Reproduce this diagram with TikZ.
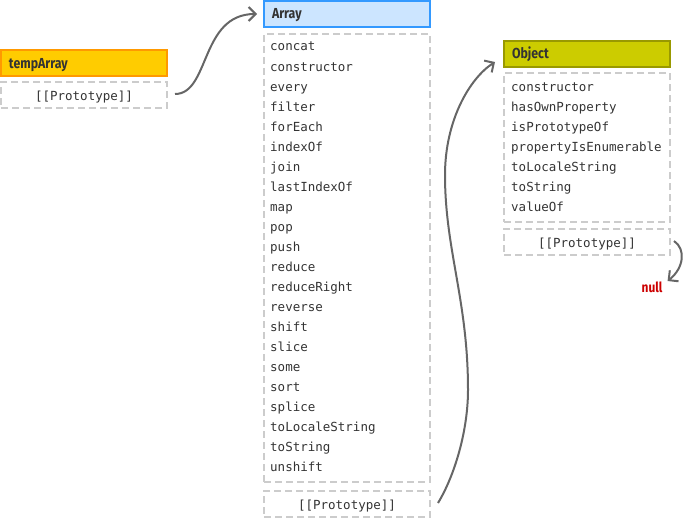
\documentclass[tikz,border=0pt]{standalone}
\usepackage{fontspec}
\setmonofont{DejaVu Sans Mono}
\newfontfamily\headfont{Fira Sans}[FakeStretch=0.85]
\usetikzlibrary{arrows.meta}
\definecolor{framegray}{HTML}{CCCCCC}
\definecolor{textdark}{HTML}{333333}
\definecolor{linkgray}{HTML}{666666}
\definecolor{tempfill}{HTML}{FFCC00}
\definecolor{tempedge}{HTML}{FF9900}
\definecolor{arrayfill}{HTML}{CCE5FF}
\definecolor{arrayedge}{HTML}{3399FF}
\definecolor{objfill}{HTML}{CCCC00}
\definecolor{objedge}{HTML}{999900}
\definecolor{nullred}{HTML}{CC0000}

\begin{document}
\begin{tikzpicture}[x=1pt,y=-1pt,
  header/.style={draw, line width=2pt, anchor=north west, outer sep=0pt,
    inner xsep=8pt, inner ysep=0pt, text width=150pt, align=left,
    text height=11pt, text depth=1pt,
    minimum height=26pt, font=\headfont\bfseries\fontsize{14.5}{16}\selectfont,
    text=textdark},
  frame/.style={draw=framegray, line width=2pt, dash pattern=on 7pt off 4pt,
    anchor=north west, outer sep=0pt, inner sep=0pt, minimum width=166pt},
  member/.style={anchor=base west, inner sep=0pt,
    font=\ttfamily\fontsize{12.5}{15}\selectfont, text=textdark},
  proto/.style={frame, minimum height=26pt, text height=10pt, text depth=0pt,
    font=\ttfamily\fontsize{12.5}{15}\selectfont, text=textdark},
  link/.style={draw=linkgray, line width=2pt,
    -{Straight Barb[length=7pt,width=14pt]}},
]
\useasboundingbox (0,0) rectangle (685,519);

% tempArray
\node[header, fill=tempfill, draw=tempedge] (thead) at (1,50) {tempArray};
\node[proto] (tproto) at (1,82) {[[Prototype]]};

% Array.prototype
\node[header, fill=arrayfill, draw=arrayedge] (ahead) at (264,1) {Array};
\node[frame, minimum height=448pt] (amembers) at (264,34) {};
\foreach \m [count=\i] in {concat,constructor,every,filter,forEach,indexOf,join,
  lastIndexOf,map,pop,push,reduce,reduceRight,reverse,shift,slice,some,sort,
  splice,toLocaleString,toString,unshift}
  \node[member] (am-\i) at (270,{51+20*(\i-1)}) {\m};
\node[proto] (aproto) at (264,491) {[[Prototype]]};

% Object.prototype
\node[header, fill=objfill, draw=objedge] (ohead) at (504,41) {Object};
\node[frame, minimum height=149pt] (omembers) at (504,73) {};
\foreach \m [count=\i] in {constructor,hasOwnProperty,isPrototypeOf,
  propertyIsEnumerable,toLocaleString,toString,valueOf}
  \node[member] (om-\i) at (511,{91+20*(\i-1)}) {\m};
\node[proto] (oproto) at (504,229) {[[Prototype]]};

\node[inner sep=0pt, text=nullred,
  font=\headfont\bfseries\fontsize{14}{15}\selectfont] (null) at (652,287) {null};

% prototype links
\draw[link] ([shift={(8,-1)}]tproto.east)
  .. controls (210,94) and (200,14) .. ([shift={(-7,0)}]ahead.west);
\draw[link] ([shift={(8,-1)}]aproto.east)
  .. controls (455,475) and (468,430) .. (468,390)
  .. controls (468,300) and (445,250) .. (445,175)
  .. controls (445,120) and (470,78) .. ([shift={(-9,8)}]ohead.west);
\draw[link] ([shift={(4,-1)}]oproto.east)
  .. controls (686,249) and (684,268) .. ([shift={(5,-6)}]null.east);
\end{tikzpicture}
\end{document}
